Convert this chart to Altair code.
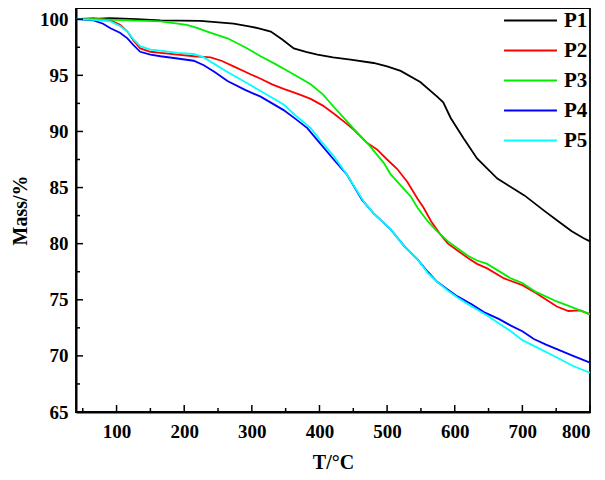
import altair as alt
import pandas as pd

series_names = ["P1", "P2", "P3", "P4", "P5"]
series_colors = ["#000000", "#ff0000", "#00ee00", "#0000ff", "#00ffff"]

p1_t = [40, 60, 90, 130, 165, 224, 273, 298, 313, 328, 345, 362, 380, 397, 420, 446, 480, 500, 520, 549, 574, 583, 594, 613, 633, 663, 703, 733, 753, 773, 790, 800]
p1_m = [100.0, 100.0, 100.1, 100.0, 99.9, 99.85, 99.6, 99.35, 99.15, 98.9, 98.2, 97.4, 97.1, 96.85, 96.6, 96.4, 96.1, 95.8, 95.4, 94.4, 93.1, 92.6, 91.2, 89.4, 87.6, 85.8, 84.3, 82.9, 82.0, 81.1, 80.5, 80.2]

p2_t = [40, 66, 91, 105, 116, 125, 135, 150, 165, 190, 214, 239, 255, 273, 298, 313, 330, 347, 370, 387, 405, 421, 440, 451, 470, 485, 500, 515, 530, 545, 554, 565, 579, 590, 604, 620, 633, 648, 673, 700, 720, 751, 768, 786, 800]
p2_m = [100.0, 100.1, 99.9, 99.5, 98.9, 98.1, 97.4, 97.1, 97.0, 96.85, 96.7, 96.6, 96.3, 95.8, 95.1, 94.7, 94.2, 93.8, 93.3, 92.9, 92.3, 91.6, 90.7, 90.15, 89.0, 88.4, 87.5, 86.65, 85.5, 84.0, 83.2, 82.0, 80.8, 80.0, 79.4, 78.7, 78.2, 77.8, 76.9, 76.3, 75.6, 74.4, 74.0, 74.05, 73.7]

p3_t = [40, 70, 116, 165, 204, 220, 234, 264, 290, 313, 335, 357, 387, 405, 421, 436, 451, 473, 495, 505, 520, 535, 545, 560, 574, 590, 604, 620, 633, 648, 683, 700, 720, 751, 775, 800]
p3_m = [100.0, 100.0, 99.9, 99.8, 99.5, 99.2, 98.9, 98.3, 97.5, 96.7, 96.0, 95.25, 94.2, 93.3, 92.2, 91.2, 90.2, 88.8, 87.2, 86.2, 85.2, 84.2, 83.2, 82.0, 81.1, 80.2, 79.6, 78.9, 78.5, 78.2, 76.9, 76.5, 75.7, 74.85, 74.3, 73.7]

p4_t = [40, 66, 80, 91, 105, 116, 125, 135, 150, 165, 190, 214, 229, 245, 264, 290, 313, 330, 347, 365, 382, 400, 421, 440, 463, 480, 505, 525, 545, 560, 574, 590, 604, 625, 643, 665, 683, 700, 717, 735, 751, 775, 800]
p4_m = [100.0, 99.9, 99.6, 99.2, 98.8, 98.3, 97.7, 97.1, 96.85, 96.7, 96.5, 96.3, 95.9, 95.3, 94.5, 93.7, 93.1, 92.5, 91.9, 91.1, 90.3, 89.0, 87.5, 86.2, 83.9, 82.7, 81.3, 79.8, 78.6, 77.5, 76.6, 75.9, 75.3, 74.6, 73.9, 73.3, 72.7, 72.2, 71.5, 71.0, 70.6, 70.0, 69.4]

p5_t = [40, 66, 91, 105, 116, 125, 135, 150, 165, 190, 214, 229, 245, 264, 290, 313, 330, 347, 365, 387, 400, 421, 440, 466, 480, 505, 525, 545, 560, 574, 590, 604, 625, 648, 665, 683, 700, 720, 751, 775, 800]
p5_m = [100.0, 99.95, 99.8, 99.4, 98.9, 98.2, 97.6, 97.3, 97.2, 97.0, 96.9, 96.6, 96.0, 95.3, 94.4, 93.6, 93.0, 92.4, 91.4, 90.3, 89.3, 87.8, 86.2, 83.7, 82.7, 81.3, 79.8, 78.6, 77.4, 76.6, 75.8, 75.2, 74.4, 73.6, 72.9, 72.2, 71.4, 70.8, 69.85, 69.1, 68.5]

x_major = [100, 200, 300, 400, 500, 600, 700, 800]
x_minor = [50, 150, 250, 350, 450, 550, 650, 750]
y_major = [65, 70, 75, 80, 85, 90, 95, 100]
y_minor = [67.5, 72.5, 77.5, 82.5, 87.5, 92.5, 97.5]

rows = []
for name, ts, ms in zip(series_names, [p1_t, p2_t, p3_t, p4_t, p5_t], [p1_m, p2_m, p3_m, p4_m, p5_m]):
    for t, m in zip(ts, ms):
        rows.append({"series": name, "T": t, "Mass": m})
df = pd.DataFrame(rows)

FONT = "Liberation Serif"
W, H = 514, 404
MAJOR_LEN, MINOR_LEN = 7, 4
TICK_COLOR = "black"

x_scale = alt.Scale(domain=[40, 800], nice=False, zero=False)
y_scale = alt.Scale(domain=[65, 101], nice=False, zero=False)

common_axis = dict(grid=False, domainColor="black", labelColor="black",
                   titleColor="black", labelFont=FONT, labelFontSize=19,
                   labelFontWeight="bold", titleFont=FONT, titleFontSize=20,
                   titleFontWeight="bold")

lines = alt.Chart(df).mark_line(strokeWidth=1.8).encode(
    x=alt.X("T:Q", scale=x_scale,
            axis=alt.Axis(values=x_major, orient="bottom", title="T/°C",
                          ticks=False, domainWidth=2, labelPadding=10,
                          titlePadding=11, **common_axis)),
    y=alt.Y("Mass:Q", scale=y_scale,
            axis=alt.Axis(values=y_major, orient="left", title="Mass/%",
                          ticks=False, domainWidth=2, labelPadding=8,
                          titlePadding=9, **common_axis)),
    color=alt.Color("series:N",
                    scale=alt.Scale(domain=series_names, range=series_colors),
                    legend=alt.Legend(orient="none", legendX=440, legendY=-2,
                                      title=None, symbolType="M-2,0L2,0",
                                      symbolSize=700, symbolStrokeWidth=2,
                                      labelFont=FONT, labelFontSize=21,
                                      labelFontWeight="bold", labelColor="black",
                                      labelOffset=19, rowPadding=5,
                                      padding=0)),
)


def x_tick_layer(vals, length):
    return alt.Chart(pd.DataFrame({"v": vals})).mark_rule(
        color=TICK_COLOR, strokeWidth=1.5).encode(
        x=alt.X("v:Q", scale=x_scale, axis=None),
        y=alt.value(H), y2=alt.value(H - length),
    )


def y_tick_layer(vals, length):
    return alt.Chart(pd.DataFrame({"v": vals})).mark_rule(
        color=TICK_COLOR, strokeWidth=1.5).encode(
        y=alt.Y("v:Q", scale=y_scale, axis=None),
        x=alt.value(0), x2=alt.value(length),
    )


chart = alt.layer(
    lines,
    x_tick_layer(x_major, MAJOR_LEN), x_tick_layer(x_minor, MINOR_LEN),
    y_tick_layer(y_major, MAJOR_LEN), y_tick_layer(y_minor, MINOR_LEN),
).resolve_axis(x="independent", y="independent").properties(
    width=W, height=H,
    padding={"left": 68, "top": 0, "right": 7, "bottom": 64},
    autosize=alt.AutoSizeParams(type="none"),
).configure_view(stroke="black", strokeWidth=1.8)

chart.save("out.html", embed_options={"renderer": "svg", "actions": False})
